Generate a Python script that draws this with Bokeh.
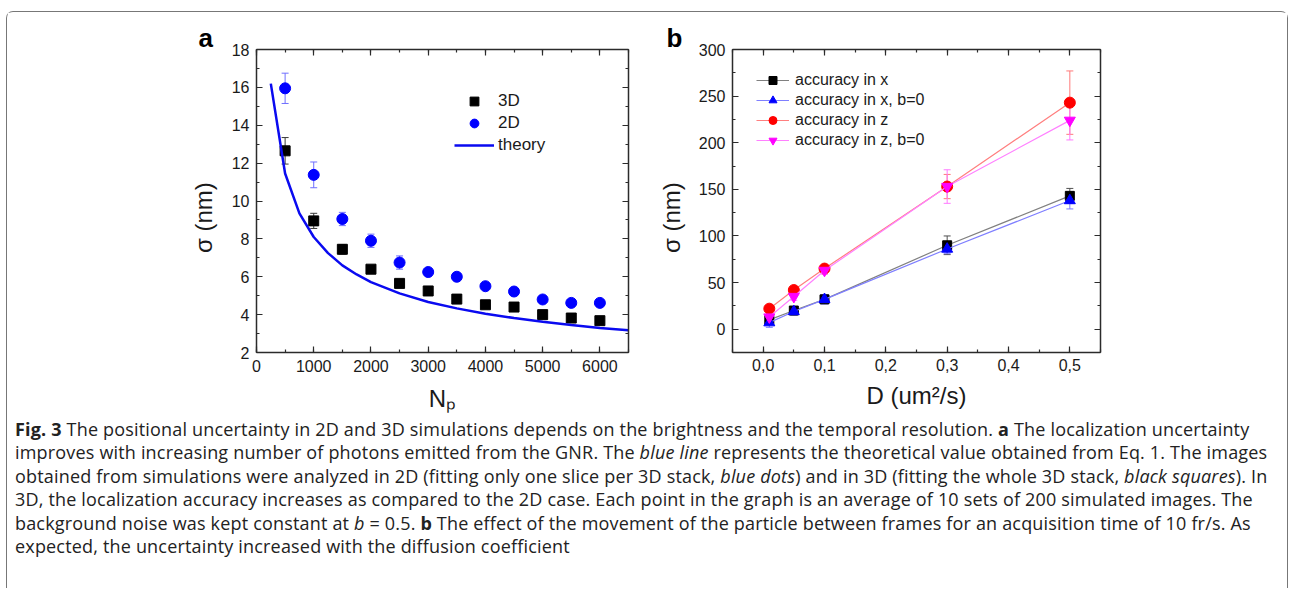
from bokeh.plotting import figure
from bokeh.models import (ColumnDataSource, Whisker, TeeHead, Legend, LegendItem, Title,
                          LinearAxis, SingleIntervalTicker, CustomJSTickFormatter, Div)
from bokeh.layouts import row, column
from bokeh.embed import file_html
from bokeh.resources import INLINE

# ---------------- Panel a data ----------------
n_photons = [500, 1000, 1500, 2000, 2500, 3000, 3500, 4000, 4500, 5000, 5500, 6000]
sigma_3d = [12.65, 8.95, 7.45, 6.4, 5.65, 5.25, 4.82, 4.52, 4.4, 4.0, 3.82, 3.68]
err_3d = [0.7, 0.4, 0.25, 0.12, 0.12, 0.1, 0.1, 0.1, 0.1, 0.1, 0.1, 0.1]
sigma_2d = [15.95, 11.38, 9.05, 7.9, 6.75, 6.25, 6.0, 5.5, 5.22, 4.8, 4.62, 4.62]
err_2d = [0.8, 0.68, 0.35, 0.35, 0.35, 0.15, 0.1, 0.1, 0.1, 0.1, 0.1, 0.1]
theory_n = [250, 500, 750, 1000, 1250, 1500, 1750, 2000, 2500, 3000, 3500, 4000, 4500,
            5000, 5500, 6000, 6500]
theory_sigma = [16.2, 11.45, 9.35, 8.1, 7.25, 6.6, 6.12, 5.72, 5.12, 4.67, 4.33, 4.05,
                3.82, 3.62, 3.45, 3.3, 3.18]

# ---------------- Panel b data ----------------
diff_coef = [0.01, 0.05, 0.1, 0.3, 0.5]
acc_x = [10, 20, 32, 90, 143]
err_acc_x = [2, 3, 3, 10, 8]
acc_x_b0 = [7, 19, 32, 86, 138]
err_acc_x_b0 = [5, 4, 5, 5, 9]
acc_z = [22, 42, 65, 153, 243]
err_acc_z = [3, 3, 3, 13, 34]
acc_z_b0 = [13, 35, 63, 153, 224]
err_acc_z_b0 = [3, 4, 4, 18, 21]

FONT = "Liberation Sans"
AX = "#2b2b2b"
TXT = "#1a1a1a"
NB = "\u00a0" * 5


def style_axis(ax, labels=True):
    ax.axis_line_color = AX
    ax.axis_line_width = 1.5
    ax.major_tick_in = 6
    ax.major_tick_out = 0
    ax.minor_tick_in = 3
    ax.minor_tick_out = 0
    ax.major_tick_line_color = AX
    ax.minor_tick_line_color = AX
    ax.major_tick_line_width = 1.2
    ax.minor_tick_line_width = 1.2
    ax.major_label_text_font = FONT
    ax.major_label_text_font_size = "16px"
    ax.major_label_text_color = TXT
    ax.axis_label_text_font = FONT
    ax.axis_label_text_font_size = "24px"
    ax.axis_label_text_font_style = "normal"
    ax.axis_label_text_color = TXT
    if not labels:
        ax.formatter = CustomJSTickFormatter(code="return ''")
        ax.major_label_standoff = 0


def whisker(p, x, y, e, color):
    lo = [a - b for a, b in zip(y, e)]
    up = [a + b for a, b in zip(y, e)]
    src = ColumnDataSource(dict(x=x, lo=lo, up=up))
    w = Whisker(source=src, base="x", lower="lo", upper="up", line_color=color, line_width=1,
                upper_head=TeeHead(size=7, line_color=color, line_width=1),
                lower_head=TeeHead(size=7, line_color=color, line_width=1),
                level="underlay")
    p.add_layout(w)


def panel_letter(p, letter, offset):
    p.add_layout(Title(text=letter, align="left", offset=offset, standoff=-7,
                       vertical_align="bottom", text_font=FONT, text_font_size="26px",
                       text_font_style="bold", text_color="black"), "above")


# ================= Panel a =================
pa = figure(width=647, height=406, x_range=(0, 6500), y_range=(2, 18),
            output_backend="svg", toolbar_location=None,
            min_border_left=249, min_border_right=26, min_border_top=37, min_border_bottom=64)
pa.xgrid.visible = False
pa.ygrid.visible = False
pa.outline_line_color = None

pa.xaxis.ticker = SingleIntervalTicker(interval=1000, num_minor_ticks=2)
pa.yaxis.ticker = SingleIntervalTicker(interval=2, num_minor_ticks=2)
style_axis(pa.xaxis[0])
style_axis(pa.yaxis[0])
pa.xaxis.major_label_standoff = 7
pa.yaxis.major_label_standoff = 7
pa.yaxis.axis_label = "σ (nm)" + NB
pa.yaxis.axis_label_standoff = 12
pa.xaxis.axis_label = "Nₚ"
pa.xaxis.axis_label_standoff = 10
top_a = LinearAxis(ticker=SingleIntervalTicker(interval=1000, num_minor_ticks=2))
right_a = LinearAxis(ticker=SingleIntervalTicker(interval=2, num_minor_ticks=2))
style_axis(top_a, labels=False)
style_axis(right_a, labels=False)
pa.add_layout(top_a, "above")
pa.add_layout(right_a, "right")
panel_letter(pa, "a", -58)

whisker(pa, n_photons, sigma_3d, err_3d, "#3a3a3a")
whisker(pa, n_photons, sigma_2d, err_2d, "#6f6fff")
r3d = pa.scatter(n_photons, sigma_3d, marker="square", size=10, fill_color="black",
                 line_color="black")
r2d = pa.scatter(n_photons, sigma_2d, marker="circle", size=11, fill_color="#0000ff",
                 line_color="#0000ff")
rth = pa.line(theory_n, theory_sigma, line_color="#0a0af0", line_width=2.5)

leg_a = Legend(items=[LegendItem(label="3D", renderers=[r3d]),
                      LegendItem(label="2D", renderers=[r2d]),
                      LegendItem(label="theory", renderers=[rth])],
               location=(198, 196), glyph_width=40, glyph_height=22, label_height=22,
               spacing=0, padding=0, margin=0, label_standoff=4,
               label_text_font=FONT, label_text_font_size="17px",
               label_text_color=TXT, border_line_color=None,
               background_fill_alpha=0)
pa.add_layout(leg_a)

# ================= Panel b =================
pb = figure(width=633, height=406, x_range=(-0.05, 0.55), y_range=(-25, 300),
            output_backend="svg", toolbar_location=None,
            min_border_left=77, min_border_right=187, min_border_top=37, min_border_bottom=66)
pb.xgrid.visible = False
pb.ygrid.visible = False
pb.outline_line_color = None

comma_fmt = CustomJSTickFormatter(code="return tick.toFixed(1).replace('.', ',')")
pb.xaxis.ticker = SingleIntervalTicker(interval=0.1, num_minor_ticks=2)
pb.yaxis.ticker = SingleIntervalTicker(interval=50, num_minor_ticks=2)
style_axis(pb.xaxis[0])
style_axis(pb.yaxis[0])
pb.xaxis.formatter = comma_fmt
pb.xaxis.major_label_standoff = 6
pb.yaxis.major_label_standoff = 7
pb.yaxis.axis_label = "σ (nm)" + NB
pb.yaxis.axis_label_standoff = 11
pb.xaxis.axis_label = "D (um²/s)"
pb.xaxis.axis_label_standoff = 8
top_b = LinearAxis(ticker=SingleIntervalTicker(interval=0.1, num_minor_ticks=2))
right_b = LinearAxis(ticker=SingleIntervalTicker(interval=50, num_minor_ticks=2))
style_axis(top_b, labels=False)
style_axis(right_b, labels=False)
pb.add_layout(top_b, "above")
pb.add_layout(right_b, "right")
panel_letter(pb, "b", -66)

series_b = [
    ("accuracy in x", acc_x, err_acc_x, "square", 9, "#000000", "#808080", "#505050"),
    ("accuracy in x, b=0", acc_x_b0, err_acc_x_b0, "triangle", 11, "#0000ff", "#7f7fff", "#7a7aff"),
    ("accuracy in z", acc_z, err_acc_z, "circle", 11, "#ff0000", "#ff7f7f", "#ff7a7a"),
    ("accuracy in z, b=0", acc_z_b0, err_acc_z_b0, "inverted_triangle", 11, "#ff00ff", "#ff80ff", "#ff7aff"),
]
items_b = []
for label, vals, errs, mk, sz, col, lcol, ecol in series_b:
    whisker(pb, diff_coef, vals, errs, ecol)
    rl = pb.line(diff_coef, vals, line_color=lcol, line_width=1.2)
    rs = pb.scatter(diff_coef, vals, marker=mk, size=sz, fill_color=col, line_color=col)
    items_b.append(LegendItem(label=label, renderers=[rl, rs]))

leg_b = Legend(items=items_b, location=(24, 202), glyph_width=33, glyph_height=20,
               label_height=20, spacing=0, padding=0, margin=0, label_standoff=6,
               label_text_font=FONT, label_text_font_size="16px",
               label_text_color=TXT, border_line_color=None,
               background_fill_alpha=0)
pb.add_layout(leg_b)

# ================= Caption =================
cap_lines = [
    "<b>Fig. 3</b> The positional uncertainty in 2D and 3D simulations depends on the brightness and the temporal resolution. <b>a</b> The localization uncertainty",
    "improves with increasing number of photons emitted from the GNR. The <i>blue line</i> represents the theoretical value obtained from Eq. 1. The images",
    "obtained from simulations were analyzed in 2D (fitting only one slice per 3D stack, <i>blue dots</i>) and in 3D (fitting the whole 3D stack, <i>black squares</i>). In",
    "3D, the localization accuracy increases as compared to the 2D case. Each point in the graph is an average of 10 sets of 200 simulated images. The",
    "background noise was kept constant at <i>b</i>&nbsp;=&nbsp;0.5. <b>b</b> The effect of the movement of the particle between frames for an acquisition time of 10 fr/s. As",
    "expected, the uncertainty increased with the diffusion coefficient",
]
cap_html = ("<div style=\"font-family: 'Open Sans', Lato, sans-serif; font-size: 18px; "
            "letter-spacing: 0.18px; line-height: 23.4px; color: #222; white-space: nowrap; "
            "padding-left: 8px; margin: 0;\">"
            + "<br>".join(cap_lines) + "</div>")
cap = Div(text=cap_html, width=1280, height=170, styles={"margin": "0", "padding": "0"})

layout = column(row(pa, pb), cap,
                styles={"border": "1.5px solid #777", "border-bottom": "none",
                        "border-radius": "7px 7px 0 0", "margin-left": "6px",
                        "margin-top": "11px"})

open("out.html", "w").write(file_html(layout, INLINE))
